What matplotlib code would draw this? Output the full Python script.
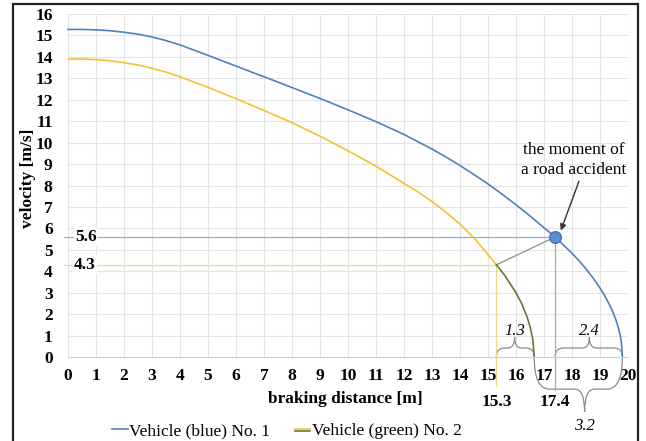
import matplotlib.pyplot as plt
from matplotlib.path import Path
from matplotlib.patches import PathPatch, Rectangle
from matplotlib.lines import Line2D
import matplotlib.patheffects as pe

plt.rcParams['font.family'] = ['Liberation Serif', 'DejaVu Serif']

# vehicle 1 (blue)
blue_s = [0, 0.5, 1, 1.5, 2, 2.5, 3, 3.5, 4, 5, 6, 7, 8, 9, 10, 11, 12, 13, 13.5, 14, 14.5,
          15, 15.5, 16, 16.5, 17, 17.4, 17.7, 18, 18.25, 18.5, 18.75, 19, 19.2, 19.4, 19.55,
          19.65, 19.72, 19.77, 19.8]
blue_v = [15.28, 15.28, 15.26, 15.22, 15.15, 15.06, 14.93, 14.76, 14.56, 14.07, 13.57, 13.07,
          12.57, 12.06, 11.53, 10.98, 10.38, 9.7, 9.33, 8.93, 8.51,
          8.07, 7.6, 7.1, 6.58, 6.03, 5.6, 5.22, 4.84, 4.49, 4.11, 3.69, 3.22, 2.79, 2.28, 1.8,
          1.4, 1.02, 0.62, 0]

# vehicle 2 (yellow) until the collision
yel_s = [0, 0.5, 1, 1.5, 2, 2.5, 3, 3.5, 4, 5, 6, 7, 8, 9, 10, 11, 12, 12.5, 13, 13.5, 14,
         14.5, 15, 15.3]
yel_v = [13.9, 13.9, 13.87, 13.82, 13.73, 13.62, 13.47, 13.29, 13.07, 12.58, 12.05, 11.5,
         10.93, 10.3, 9.62, 8.9, 8.1, 7.7, 7.25, 6.75, 6.2, 5.55, 4.78, 4.3]

# vehicle 2 after the collision (green)
grn_s = [15.3, 15.6, 16, 16.2, 16.4, 16.5, 16.6, 16.65]
grn_v = [4.3, 3.8, 3.0, 2.5, 1.85, 1.43, 0.83, 0]

crash_s1, crash_v1 = 17.4, 5.6
crash_s2, crash_v2 = 15.3, 4.3

c_blue = '#4f81bd'
c_yel = '#f2c232'
c_grn = '#5d7b3a'

fig = plt.figure(figsize=(6.46, 4.41), dpi=100)
ax = fig.add_axes([68/646, 1-357/441, 560/646, 343/441])

ax.set_xlim(0, 20)
ax.set_ylim(0, 16)
ax.set_xticks(range(0, 21))
ax.set_yticks(range(0, 17))
ax.grid(True, color='#e3e3e3', lw=0.8)
ax.set_axisbelow(True)
for sp in ['top', 'right', 'left']:
    ax.spines[sp].set_visible(False)
ax.spines['bottom'].set_color('#d0d0d0')
ax.tick_params(length=0, labelsize=12.5, pad=8)
for lab in ax.get_xticklabels() + ax.get_yticklabels():
    lab.set_fontweight('bold')
ax.tick_params(axis='y', pad=11)

# helper lines
ax.plot([-0.15, crash_s1], [crash_v1, crash_v1], color='#8fb0d6', lw=0.9, clip_on=False)
ax.plot([-0.15, crash_s2], [crash_v2, crash_v2], color='#f5d77a', lw=0.9, clip_on=False)
ax.plot([crash_s2, crash_s2], [crash_v2, -1.35], color='#f5d77a', lw=0.9, clip_on=False)
ax.plot([crash_s1, crash_s1], [crash_v1, -1.55], color='#8fb0d6', lw=0.9, clip_on=False)
ax.plot([crash_s2, crash_s1], [crash_v2, crash_v1], color='#8a8a8a', lw=0.9)

ax.plot(blue_s, blue_v, color=c_blue, lw=1.2, clip_on=False)
ax.plot(yel_s, yel_v, color=c_yel, lw=1.2)
ax.plot(grn_s, grn_v, color=c_grn, lw=1.2, clip_on=False)
ax.plot([crash_s1], [crash_v1], 'o', ms=8.5, mfc='#5b8fd0', mec='#3d6aa6', mew=0.8, zorder=5)

ax.text(0.65, crash_v1, '5.6', fontsize=12.5, fontweight='bold', ha='center', va='center',
        bbox=dict(fc='white', ec='none', pad=1))
ax.text(0.6, crash_v2, '4.3', fontsize=12.5, fontweight='bold', ha='center', va='center',
        bbox=dict(fc='white', ec='none', pad=1))
ax.text(crash_s2, -2.1, '15.3', fontsize=12.5, fontweight='bold', ha='center', va='center',
        clip_on=False)
ax.text(crash_s1, -2.1, '17.4', fontsize=12.5, fontweight='bold', ha='center', va='center',
        clip_on=False)

ax.text(18.07, 9.2, 'the moment of\na road accident', fontsize=12.5, ha='center', va='center',
        linespacing=1.35)
ax.annotate('', xy=(17.6, 5.9), xytext=(18.25, 8.2),
            arrowprops=dict(arrowstyle='-|>', color='#333333', lw=1.0, mutation_scale=9,
                            shrinkA=0, shrinkB=0))


def brace(x0, x1, xm, yb, ys, yt, r, rm):
    verts = [(x0, yb), (x0, ys), (x0 + r, ys), (xm - rm, ys), (xm, ys), (xm, yt),
             (xm, ys), (xm + rm, ys), (x1 - r, ys), (x1, ys), (x1, yb)]
    codes = [Path.MOVETO, Path.CURVE3, Path.CURVE3, Path.LINETO, Path.CURVE3, Path.CURVE3,
             Path.CURVE3, Path.CURVE3, Path.LINETO, Path.CURVE3, Path.CURVE3]
    ax.add_patch(PathPatch(Path(verts, codes), fc='none', ec='#8a8a8a', lw=0.9, clip_on=False))


brace(15.3, 16.65, 15.95, 0.02, 0.42, 0.92, 0.3, 0.25)
ax.text(15.95, 1.2, '1.3', fontsize=12, style='italic', ha='center', va='center')
brace(17.4, 19.8, 18.62, 0.02, 0.42, 0.92, 0.3, 0.25)
ax.text(18.62, 1.2, '2.4', fontsize=12, style='italic', ha='center', va='center')
brace(16.65, 19.8, 18.45, 0.0, -1.5, -2.55, 0.55, 0.35)
ax.text(18.45, -3.2, '3.2', fontsize=12, style='italic', ha='center', va='center', clip_on=False)

ax.set_xlabel('braking distance [m]', fontsize=12.5, fontweight='bold')
ax.xaxis.set_label_coords(0.496, -0.1)
ax.set_ylabel('velocity [m/s]', fontsize=12.5, fontweight='bold')
ax.yaxis.set_label_coords(-0.058, 0.52)

h1 = Line2D([], [], color=c_blue, lw=1.2)
h2 = Line2D([], [], color=c_yel, lw=1.2,
            path_effects=[pe.SimpleLineShadow(offset=(0, -1.5), shadow_color=c_grn, alpha=1),
                          pe.Normal()])
fig.legend([h1, h2], ['Vehicle (blue) No. 1', 'Vehicle (green) No. 2'], loc='center',
           bbox_to_anchor=(287/646, 1-431/441), ncol=2, frameon=False, fontsize=12.5,
           handlelength=0.9, handletextpad=0.1, columnspacing=1.4)

fig.add_artist(Rectangle((13/646, -0.1), (638-13)/646, 1.1-4/441, transform=fig.transFigure,
                         fill=False, ec='#222222', lw=1.6))

fig.savefig('out.png', dpi=100)
